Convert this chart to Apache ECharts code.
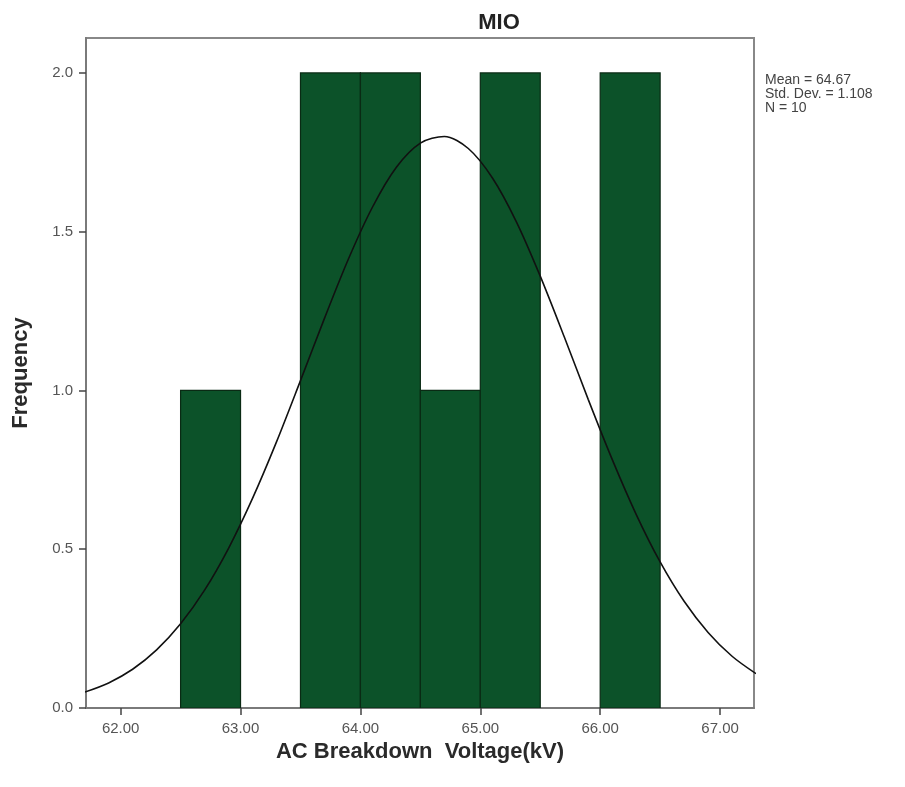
<!DOCTYPE html>
<html><head><meta charset="utf-8">
<script src="https://cdn.jsdelivr.net/npm/echarts@6/dist/echarts.min.js"></script>
<style>html,body{margin:0;padding:0;background:#fff}#c{width:905px;height:787px}</style>
</head><body><div id="c"></div>
<script>
// Histogram bins: [start, end, frequency]
const binStarts = [62.5, 63.5, 64.0, 64.5, 65.0, 66.0];
const binEnds   = [63.0, 64.0, 64.5, 65.0, 65.5, 66.5];
const binCounts = [1, 2, 2, 1, 2, 2];
// Normal curve
const curveX = [61.7,61.9,62.1,62.3,62.5,62.7,62.9,63.1,63.3,63.5,63.7,63.9,64.1,64.3,64.5,64.7,64.9,65.1,65.3,65.5,65.7,65.9,66.1,66.3,66.5,66.7,66.9,67.1,67.3];
const curveY = [0.050,0.079,0.122,0.183,0.265,0.371,0.503,0.660,0.838,1.031,1.227,1.414,1.577,1.703,1.779,1.800,1.762,1.670,1.532,1.360,1.169,0.972,0.783,0.610,0.460,0.336,0.238,0.163,0.108];
const xTicks = [62, 63, 64, 65, 66, 67];
const yTicks = [0, 0.5, 1.0, 1.5, 2.0];
const statsLines = ['Mean = 64.67', 'Std. Dev. = 1.108', 'N = 10'];

const chart = echarts.init(document.getElementById('c'));
const barData = binStarts.map((s, i) => [s, binEnds[i], binCounts[i]]);
const curveData = curveX.map((x, i) => [x, curveY[i]]);
const font = 'Arial, "Liberation Sans", sans-serif';

chart.setOption({
  animation: false,
  backgroundColor: '#fff',
  title: {
    text: 'MIO', left: 494, top: 7, textAlign: 'center',
    textStyle: { fontFamily: font, fontSize: 22, fontWeight: 'bold', color: '#222' }
  },
  grid: { left: 86, right: 151, top: 38, bottom: 79, show: true, borderColor: '#888', borderWidth: 2,
    backgroundColor: '#fff', containLabel: false, outerBoundsMode: 'none' },
  xAxis: {
    type: 'value', min: 61.711, max: 67.283,
    name: 'AC Breakdown  Voltage(kV)', nameLocation: 'middle', nameGap: 27,
    nameTextStyle: { fontFamily: font, fontSize: 22, fontWeight: 'bold', color: '#2a2a2a' },
    axisLine: { show: true, lineStyle: { color: '#7a7a7a', width: 2 } },
    axisTick: { show: true, length: 7, lineStyle: { color: '#444', width: 1.5 }, customValues: xTicks },
    axisLabel: { fontFamily: font, fontSize: 15, color: '#555', margin: 13, customValues: xTicks,
      formatter: v => v.toFixed(2) },
    splitLine: { show: false }
  },
  yAxis: {
    type: 'value', min: 0, max: 2.11,
    name: 'Frequency', nameLocation: 'middle', nameGap: 54, nameRotate: 90,
    nameTextStyle: { fontFamily: font, fontSize: 22, fontWeight: 'bold', color: '#2a2a2a' },
    axisLine: { show: true, lineStyle: { color: '#7a7a7a', width: 2 } },
    axisTick: { show: true, length: 7, lineStyle: { color: '#444', width: 1.5 }, customValues: yTicks },
    axisLabel: { fontFamily: font, fontSize: 15, color: '#555', margin: 13, customValues: yTicks,
      formatter: v => v.toFixed(1) },
    splitLine: { show: false }
  },
  graphic: [{
    type: 'text', left: 765, top: 73,
    style: { text: statsLines.join('\n'), font: '14px ' + font, fill: '#444', lineHeight: 14 }
  }],
  series: [{
    type: 'custom',
    data: barData,
    encode: { x: [0, 1], y: 2 },
    clip: true,
    renderItem: (params, api) => {
      const p0 = api.coord([api.value(0), 0]);
      const p1 = api.coord([api.value(1), api.value(2)]);
      return {
        type: 'rect',
        shape: { x: p0[0], y: p1[1], width: p1[0] - p0[0], height: p0[1] - p1[1] },
        style: { fill: '#0c5229', stroke: '#0a2a14', lineWidth: 1.2 }
      };
    }
  }, {
    type: 'line', data: curveData, smooth: 0.3, showSymbol: false, clip: true,
    lineStyle: { color: '#111', width: 1.6 }
  }]
});
</script></body></html>
